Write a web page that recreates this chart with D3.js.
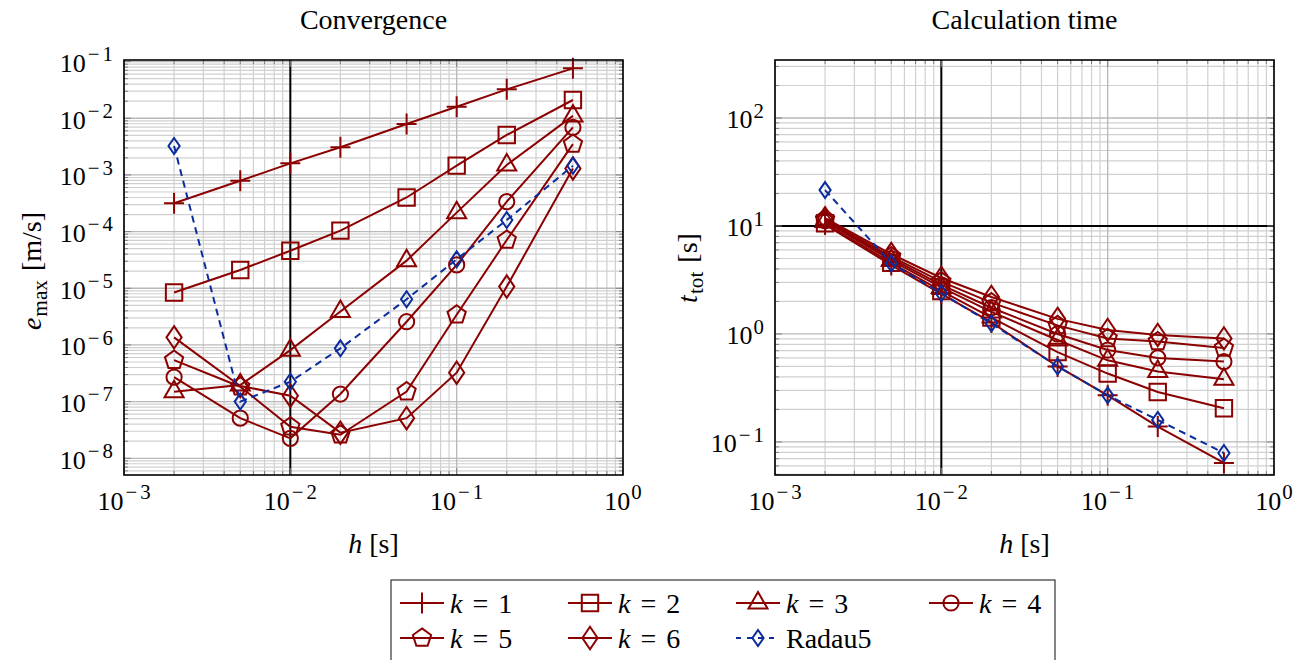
<!DOCTYPE html>
<html><head><meta charset="utf-8">
<script src="https://cdn.jsdelivr.net/npm/d3@7/dist/d3.min.js"></script>
<style>
body{margin:0;background:#fff}
svg{display:block}
text{font-family:'Liberation Serif','DejaVu Serif',serif}
</style>
</head><body>
<svg id="chart" width="1309" height="660" font-family="'Liberation Serif', 'DejaVu Serif', serif"></svg>
<script>
// ---------------- data ----------------
const hValues = [0.002, 0.005, 0.01, 0.02, 0.05, 0.1, 0.2, 0.5];

const errK1    = [3.16e-4, 7.9e-4, 1.6e-3, 3.08e-3, 7.9e-3, 1.6e-2, 3.24e-2, 7.6e-2];
const errK2    = [8.4e-6, 2.1e-5, 4.6e-5, 1.04e-4, 4.0e-4, 1.46e-3, 5.07e-3, 2.1e-2];
const errK3    = [1.5e-7, 1.96e-7, 8.1e-7, 3.9e-6, 3.07e-5, 2.16e-4, 1.5e-3, 1.1e-2];
const errK4    = [2.7e-7, 5.1e-8, 2.25e-8, 1.36e-7, 2.57e-6, 2.58e-5, 3.37e-4, 6.9e-3];
const errK5    = [5.4e-7, 1.83e-7, 3.6e-8, 2.6e-8, 1.5e-7, 3.4e-6, 7.1e-5, 3.5e-3];
const errK6    = [1.36e-6, 1.89e-7, 1.27e-7, 2.83e-8, 5.1e-8, 3.24e-7, 1.07e-5, 1.3e-3];
const errRadau = [3.24e-3, 1.0e-7, 2.24e-7, 8.7e-7, 6.4e-6, 3.24e-5, 1.6e-4, 1.45e-3];

const timeK1    = [10.3, 4.35, 2.35, 1.28, 0.50, 0.27, 0.139, 0.064];
const timeK2    = [10.6, 4.55, 2.5, 1.42, 0.68, 0.43, 0.29, 0.205];
const timeK3    = [11.0, 4.8, 2.7, 1.6, 0.88, 0.57, 0.45, 0.38];
const timeK4    = [11.2, 5.0, 2.85, 1.75, 1.0, 0.71, 0.60, 0.555];
const timeK5    = [11.5, 5.2, 3.05, 1.95, 1.2, 0.91, 0.85, 0.74];
const timeK6    = [11.8, 5.5, 3.3, 2.2, 1.38, 1.09, 0.98, 0.91];
const timeRadau = [21.5, 4.5, 2.38, 1.25, 0.50, 0.27, 0.16, 0.079];

const seriesKeys = ["k1", "k2", "k3", "k4", "k5", "k6", "radau"];
const seriesLabels = ["1", "2", "3", "4", "5", "6", "Radau5"];
const panelTitles = ["Convergence", "Calculation time"];

const xTickExps = [-3, -2, -1, 0];
const errTickExps = [-8, -7, -6, -5, -4, -3, -2, -1];
const timeTickExps = [-1, 0, 1, 2];

const xDomain = [1e-3, 1];
const errDomain = [Math.pow(10, -8.295), Math.pow(10, -0.972)];
const timeDomain = [Math.pow(10, -1.306), Math.pow(10, 2.537)];

// ---------------- style ----------------
const RED = "#8b0000", BLUE = "#0b2c9c";
const FS = 28;      // titles, labels, legend
const TFS = 26;     // tick labels
const svg = d3.select("#chart");

const styles = {
  k1: {color: RED, marker: "plus", dash: null},
  k2: {color: RED, marker: "square", dash: null},
  k3: {color: RED, marker: "triangle", dash: null},
  k4: {color: RED, marker: "circle", dash: null},
  k5: {color: RED, marker: "pentagon", dash: null},
  k6: {color: RED, marker: "diamond", dash: null},
  radau: {color: BLUE, marker: "sdiamond", dash: "7,5"}
};

function markerPath(type) {
  switch (type) {
    case "plus": return "M-10,0H10M0,-10.5V10.5";
    case "square": return "M-8.2,-8.2H8.2V8.2H-8.2Z";
    case "triangle": {
      const R = 11; return `M0,${-R}L${R*0.866},${R*0.5}L${-R*0.866},${R*0.5}Z`;
    }
    case "circle": { const r = 7.6; return `M${r},0A${r},${r} 0 1 1 ${-r},0A${r},${r} 0 1 1 ${r},0Z`; }
    case "pentagon": {
      const R = 9.6; let p = "";
      for (let i = 0; i < 5; i++) { const a = (-90 + 72*i) * Math.PI/180; p += (i ? "L" : "M") + (R*Math.cos(a)).toFixed(2) + "," + (R*Math.sin(a)).toFixed(2); }
      return p + "Z";
    }
    case "diamond": return "M0,-11.2L7.6,0L0,11.2L-7.6,0Z";
    case "sdiamond": return "M0,-8L5.6,0L0,8L-5.6,0Z";
  }
}

function supLabel(sel, base, exp) {
  sel.append("tspan").text(base);
  const es = 0.8*TFS;
  if (exp < 0) {
    sel.append("tspan").attr("dy", -0.42*TFS).attr("dx", 2).attr("font-size", es).text("\u2212");
    sel.append("tspan").attr("dx", 3).attr("font-size", es).text(String(-exp));
  } else {
    sel.append("tspan").attr("dy", -0.42*TFS).attr("dx", 1).attr("font-size", es).text(String(exp));
  }
}

function drawPanel(cfg) {
  const g = svg.append("g");
  const x = d3.scaleLog().domain(xDomain).range([cfg.left, cfg.right]);
  const y = d3.scaleLog().domain(cfg.yDomain).range([cfg.bottom, cfg.top]);

  const xMinor = [], yMinor = [];
  for (let e = -3; e < 0; e++) for (let m = 2; m <= 9; m++) xMinor.push(m * Math.pow(10, e));
  const [ylo, yhi] = cfg.yDomain;
  for (let e = Math.floor(Math.log10(ylo)); e <= Math.ceil(Math.log10(yhi)); e++)
    for (let m = 2; m <= 9; m++) { const v = m*Math.pow(10, e); if (v > ylo && v < yhi) yMinor.push(v); }
  const xMajor = xTickExps.map(e => Math.pow(10, e));
  const yMajor = cfg.yTickExps.map(e => Math.pow(10, e));

  const grid = g.append("g");
  grid.selectAll(".gxm").data(xMinor).join("line")
    .attr("x1", d => x(d)).attr("x2", d => x(d)).attr("y1", cfg.top).attr("y2", cfg.bottom)
    .attr("stroke", "#d0d0d0").attr("stroke-width", 1.2);
  grid.selectAll(".gym").data(yMinor).join("line")
    .attr("y1", d => y(d)).attr("y2", d => y(d)).attr("x1", cfg.left).attr("x2", cfg.right)
    .attr("stroke", "#d0d0d0").attr("stroke-width", 1.2);
  grid.selectAll(".gxM").data(xMajor).join("line")
    .attr("x1", d => x(d)).attr("x2", d => x(d)).attr("y1", cfg.top).attr("y2", cfg.bottom)
    .attr("stroke", "#b8b8b8").attr("stroke-width", 1.3);
  grid.selectAll(".gyM").data(yMajor).join("line")
    .attr("y1", d => y(d)).attr("y2", d => y(d)).attr("x1", cfg.left).attr("x2", cfg.right)
    .attr("stroke", "#b8b8b8").attr("stroke-width", 1.3);

  g.append("line").attr("x1", x(1e-2)).attr("x2", x(1e-2)).attr("y1", cfg.top).attr("y2", cfg.bottom)
    .attr("stroke", "#000").attr("stroke-width", 2);
  if (cfg.extraY) g.append("line").attr("y1", y(cfg.extraY)).attr("y2", y(cfg.extraY)).attr("x1", cfg.left).attr("x2", cfg.right)
    .attr("stroke", "#000").attr("stroke-width", 2);

  const tk = g.append("g").attr("stroke", "#808080").attr("stroke-width", 1);
  xMinor.forEach(v => { tk.append("line").attr("x1", x(v)).attr("x2", x(v)).attr("y1", cfg.bottom).attr("y2", cfg.bottom-4);
                        tk.append("line").attr("x1", x(v)).attr("x2", x(v)).attr("y1", cfg.top).attr("y2", cfg.top+4); });
  yMinor.forEach(v => { tk.append("line").attr("y1", y(v)).attr("y2", y(v)).attr("x1", cfg.left).attr("x2", cfg.left+4);
                        tk.append("line").attr("y1", y(v)).attr("y2", y(v)).attr("x1", cfg.right).attr("x2", cfg.right-4); });
  xMajor.forEach(v => { tk.append("line").attr("x1", x(v)).attr("x2", x(v)).attr("y1", cfg.bottom).attr("y2", cfg.bottom-7);
                        tk.append("line").attr("x1", x(v)).attr("x2", x(v)).attr("y1", cfg.top).attr("y2", cfg.top+7); });
  yMajor.forEach(v => { tk.append("line").attr("y1", y(v)).attr("y2", y(v)).attr("x1", cfg.left).attr("x2", cfg.left+7);
                        tk.append("line").attr("y1", y(v)).attr("y2", y(v)).attr("x1", cfg.right).attr("x2", cfg.right-7); });

  const line = d3.line().x(d => x(d[0])).y(d => y(d[1]));
  seriesKeys.forEach(key => {
    const st = styles[key];
    const pts = hValues.map((h, i) => [h, cfg.series[key][i]]);
    g.append("path").datum(pts).attr("d", line).attr("fill", "none")
      .attr("stroke", st.color).attr("stroke-width", 2).attr("stroke-dasharray", st.dash);
    g.append("g").selectAll("path").data(pts).join("path")
      .attr("d", markerPath(st.marker))
      .attr("transform", d => `translate(${x(d[0])},${y(d[1])})`)
      .attr("fill", "none").attr("stroke", st.color).attr("stroke-width", 2);
  });

  g.append("rect").attr("x", cfg.left).attr("y", cfg.top).attr("width", cfg.right-cfg.left).attr("height", cfg.bottom-cfg.top)
    .attr("fill", "none").attr("stroke", "#000").attr("stroke-width", 1.6);

  xTickExps.forEach(e => {
    const t = g.append("text").attr("x", x(Math.pow(10, e))).attr("y", cfg.bottom + 35)
      .attr("text-anchor", "middle").attr("font-size", TFS);
    supLabel(t, "10", e);
  });
  cfg.yTickExps.forEach(e => {
    const t = g.append("text").attr("x", cfg.left - 11).attr("y", y(Math.pow(10, e)) + 10.5)
      .attr("text-anchor", "end").attr("font-size", TFS);
    supLabel(t, "10", e);
  });

  g.append("text").attr("x", (cfg.left+cfg.right)/2).attr("y", 29).attr("text-anchor", "middle")
    .attr("font-size", FS).text(cfg.title);
  const xl = g.append("text").attr("x", (cfg.left+cfg.right)/2).attr("y", 553).attr("text-anchor", "middle").attr("font-size", FS);
  xl.append("tspan").attr("font-style", "italic").text("h");
  xl.append("tspan").text("\u00a0[s]");
  const yl = g.append("text").attr("transform", `translate(${cfg.yLabelX},${cfg.yLabelY}) rotate(-90)`)
    .attr("text-anchor", "middle").attr("font-size", FS);
  yl.append("tspan").attr("font-style", "italic").text(cfg.yVar);
  yl.append("tspan").attr("font-size", 0.76*FS).attr("dy", 6).attr("dx", 1).text(cfg.ySub);
  yl.append("tspan").attr("dy", -6).attr("dx", 9).text(cfg.yUnit);
}

drawPanel({
  left: 124, right: 623, top: 60, bottom: 475,
  yDomain: errDomain, yTickExps: errTickExps, title: panelTitles[0],
  series: {k1: errK1, k2: errK2, k3: errK3, k4: errK4, k5: errK5, k6: errK6, radau: errRadau},
  yVar: "e", ySub: "max", yUnit: "[m/s]", yLabelX: 41, yLabelY: 271, extraY: null
});
drawPanel({
  left: 775, right: 1274, top: 60, bottom: 475,
  yDomain: timeDomain, yTickExps: timeTickExps, title: panelTitles[1],
  series: {k1: timeK1, k2: timeK2, k3: timeK3, k4: timeK4, k5: timeK5, k6: timeK6, radau: timeRadau},
  yVar: "t", ySub: "tot", yUnit: "[s]", yLabelX: 697, yLabelY: 268, extraY: 10
});

const lg = svg.append("g");
lg.append("rect").attr("x", 391).attr("y", 580).attr("width", 664).attr("height", 95)
  .attr("fill", "#fff").attr("stroke", "#444").attr("stroke-width", 1.3);
const colX = [400, 568, 736, 929];
const rowY = [603, 638];
seriesKeys.forEach((key, i) => {
  const st = styles[key];
  const cx = colX[i % 4], cy = rowY[Math.floor(i / 4)];
  lg.append("line").attr("x1", cx).attr("x2", cx + 44).attr("y1", cy).attr("y2", cy)
    .attr("stroke", st.color).attr("stroke-width", 2).attr("stroke-dasharray", st.dash ? "5,6" : null);
  lg.append("path").attr("d", markerPath(st.marker)).attr("transform", `translate(${cx+22},${cy})`)
    .attr("fill", "none").attr("stroke", st.color).attr("stroke-width", 2);
  const t = lg.append("text").attr("x", cx + 50).attr("y", cy + 10).attr("font-size", FS);
  if (key === "radau") t.text(seriesLabels[i]);
  else {
    t.append("tspan").attr("font-style", "italic").text("k");
    t.append("tspan").attr("dx", 10).text("=");
    t.append("tspan").attr("dx", 10).text(seriesLabels[i]);
  }
});
</script>
</body></html>
